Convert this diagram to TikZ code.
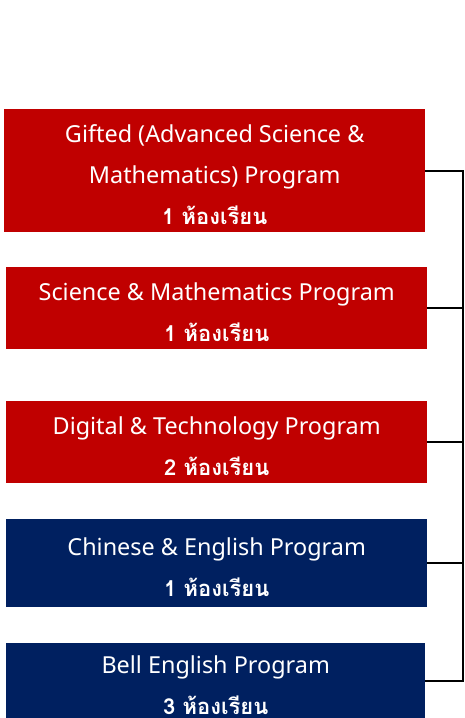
\documentclass[tikz,border=0pt]{standalone}
\usepackage{fontspec}
\setmainfont{Noto Sans}
\newfontfamily\thaifont[Script=Thai,Scale=0.94]{Loma}
\definecolor{pred}{HTML}{C00000}
\definecolor{pnavy}{HTML}{002060}
\newcommand{\thline}[1]{{\thaifont\bfseries #1}}
\begin{document}
\begin{tikzpicture}[x=1pt,y=-1pt,
  progbox/.style={anchor=north west,inner sep=0pt,text=white,align=center,
    font=\fontsize{23.4}{41}\selectfont},
  redbox/.style={progbox,fill=pred},
  navybox/.style={progbox,fill=pnavy},
  link/.style={draw=black,line width=2pt}]
\useasboundingbox (0,0) rectangle (464,718);
\node[redbox,minimum width=421pt,minimum height=123pt] (b1) at (4,109)
  {\rule{0pt}{26pt}Gifted (Advanced Science \&\\Mathematics) Program\\\thline{1 ห้องเรียน}};
\node[redbox,minimum width=421pt,minimum height=82pt] (b2) at (6,267)
  {\rule{0pt}{26pt}Science \& Mathematics Program\\\thline{1 ห้องเรียน}};
\node[redbox,minimum width=421pt,minimum height=82pt] (b3) at (6,401)
  {\rule{0pt}{26pt}Digital \& Technology Program\\\thline{2 ห้องเรียน}};
\node[navybox,minimum width=421pt,minimum height=88pt] (b4) at (6,519)
  {\rule{0pt}{26pt}Chinese \& English Program\\\thline{1 ห้องเรียน}};
\node[navybox,minimum width=419pt,minimum height=76pt] (b5) at (6,643)
  {\rule{0pt}{26pt}Bell English Program\\\thline{3 ห้องเรียน}};
\coordinate (spine) at (463,0);
\draw[link] (b1.east) -- (b1.east -| spine) -- (b5.east -| spine) -- (b5.east);
\foreach \b in {b2,b3,b4}
  \draw[link] (\b.east) -- (\b.east -| spine);
\end{tikzpicture}
\end{document}
